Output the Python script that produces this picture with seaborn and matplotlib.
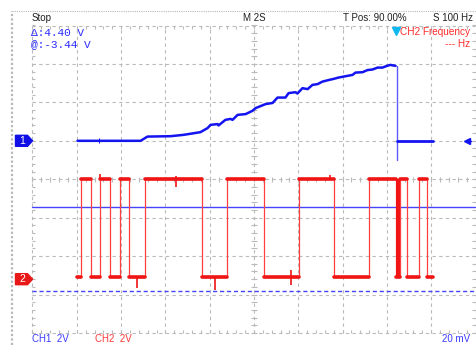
import numpy as np
import pandas as pd
import matplotlib
matplotlib.use("Agg")
import matplotlib.pyplot as plt
import seaborn as sns
from matplotlib.lines import Line2D
from matplotlib.patches import Polygon

sns.set_style("white")
plt.rcParams['font.family'] = ['Liberation Sans', 'DejaVu Sans']

# ---- acquisition settings ----
sec_per_div = 2.0
n_hdiv, n_vdiv = 10, 8
ch1_volts_per_div = 2.0
ch2_volts_per_div = 2.0
ch1_offset_div = 1.0
ch2_offset_div = -2.6

# ---- CH1: analog ramp (time in s, volts) ----
ch1_t = [2.03, 4.88, 5.19, 6.23, 6.82, 7.58, 7.90, 8.04, 8.35, 8.40, 8.71, 8.94,
         9.03, 9.26, 9.62, 9.93, 10.07, 10.52, 10.84, 11.06, 11.42, 11.56, 11.87,
         11.96, 12.19, 12.42, 12.64, 12.87, 13.09, 13.36, 13.59, 13.81, 14.13,
         14.45, 14.58, 14.90, 15.12, 15.35, 15.58, 15.80, 16.03, 16.16, 16.39]
ch1_v = [0.00, 0.00, 0.22, 0.24, 0.31, 0.45, 0.66, 0.83, 0.87, 0.80, 1.09, 1.14,
         1.09, 1.35, 1.39, 1.56, 1.70, 1.91, 1.97, 2.25, 2.25, 2.48, 2.53,
         2.46, 2.74, 2.69, 2.91, 2.95, 3.08, 3.16, 3.22, 3.29, 3.36,
         3.43, 3.55, 3.57, 3.68, 3.71, 3.81, 3.81, 3.91, 3.95, 3.90]
ch1_drop_t = 16.46
ch1_drop_v = [3.90, -0.99]
ch1_tail_t = [16.46, 18.06]
ch1_tail_v = [0.00, 0.00]
ch1_glitch_t = [3.02]
ch1_glitch_v = [0.15]

# ---- CH2: digital signal ----
ch2_edges = [2.03, 2.17, 2.62, 3.05, 3.48, 3.97, 4.37, 5.10, 7.67, 8.76, 10.43,
             12.01, 13.63, 15.17, 16.43, 16.57, 16.93, 17.43, 17.83, 18.06]
ch2_states = [0, 1, 0, 1, 0, 1, 0, 1, 0, 1, 0, 1, 0, 1, 0, 1, 0, 1, 0]
ch2_high_v = 5.2
ch2_low_v = 0.1
ch2_burst = [16.43, 16.57]
ch2_spike_t = [3.06, 4.74, 6.50, 8.26, 11.69, 13.45]
ch2_spike_lo = [5.20, -0.47, 4.80, -0.57, -0.30, 5.20]
ch2_spike_hi = [5.45, 0.10, 5.35, 0.10, 0.47, 5.40]

# ---- cursors (CH1 volts) ----
cursor_at_v = -3.44
cursor_delta_v = 4.40

# ---- readouts ----
status_text = "Stop"
timebase_text = "M 2S"
tpos_text = "T Pos: 90.00%"
rate_text = "S 100 Hz"
meas_name = "CH2 Frequency"
meas_value = "--- Hz"
ch1_label = "CH1  2V"
ch2_label = "CH2  2V"
sens_label = "20 mV"
trig_pos_t = 16.39

W, H = 477, 345
BLUE = '#1414f0'
RED = '#f01414'
GRID = '#bababa'


def ch1_div(v):
    return np.asarray(v, dtype=float) / ch1_volts_per_div + ch1_offset_div


def ch2_div(v):
    return np.asarray(v, dtype=float) / ch2_volts_per_div + ch2_offset_div


fig = plt.figure(figsize=(W / 100, H / 100), dpi=100)
fig.patch.set_facecolor('white')
gx0, gx1, gy0, gy1 = 32.5, 475.5, 25.5, 333.0
ax = fig.add_axes([gx0 / W, 1 - gy1 / H, (gx1 - gx0) / W, (gy1 - gy0) / H])
t_span = sec_per_div * n_hdiv
ax.set_xlim(0, t_span)
ax.set_ylim(-n_vdiv / 2, n_vdiv / 2)
ax.axis('off')
px_x = t_span / (gx1 - gx0)
px_y = n_vdiv / (gy1 - gy0)

# ---- graticule ----
grid_kw = dict(color=GRID, lw=0.8, dashes=(3, 3), clip_on=False, zorder=1)
for t in np.arange(0, t_span + 0.01, sec_per_div):
    ax.axvline(t, **grid_kw)
for d in range(-n_vdiv // 2, n_vdiv // 2 + 1):
    ax.axhline(d, **grid_kw)
minor_t = np.arange(0, t_span + 0.001, sec_per_div / 5)
minor_d = np.arange(-n_vdiv / 2, n_vdiv / 2 + 0.001, 0.2)
tick_kw = dict(color=GRID, lw=0.8, clip_on=False, zorder=1)
ax.vlines(minor_t, -2.5 * px_y, 2.5 * px_y, **tick_kw)
ax.hlines(minor_d, t_span / 2 - 2.5 * px_x, t_span / 2 + 2.5 * px_x, **tick_kw)
ax.vlines(minor_t, n_vdiv / 2 - 3 * px_y, n_vdiv / 2, **tick_kw)
ax.vlines(minor_t, -n_vdiv / 2, -n_vdiv / 2 + 3 * px_y, **tick_kw)
ax.hlines(minor_d, 0, 3 * px_x, **tick_kw)
ax.hlines(minor_d, t_span - 3 * px_x, t_span, **tick_kw)

# ---- cursors ----
ax.axhline(ch1_div(cursor_at_v), color='#4444ff', lw=1.0, zorder=2, clip_on=False)
ax.axhline(ch1_div(cursor_at_v - cursor_delta_v), color='#4444ff', lw=1.0,
           dashes=(3, 2), zorder=2, clip_on=False)

# ---- CH2 trace ----
step_t, step_d = [], []
seg_rows = []
for i, s in enumerate(ch2_states):
    lvl = ch2_high_v if s else ch2_low_v
    t0, t1 = ch2_edges[i], ch2_edges[i + 1]
    step_t += [t0, t1]
    step_d += [ch2_div(lvl), ch2_div(lvl)]
    seg_rows += [(i, t0, float(ch2_div(lvl))), (i, t1, float(ch2_div(lvl)))]
steps = pd.DataFrame({'t': step_t, 'd': np.asarray(step_d, dtype=float)})
plateaus = pd.DataFrame(seg_rows, columns=['seg', 't', 'd'])
sns.lineplot(data=steps, x='t', y='d', sort=False, estimator=None, ax=ax,
             color='#ff4040', lw=0.9, zorder=3)
sns.lineplot(data=plateaus, x='t', y='d', units='seg', estimator=None, ax=ax,
             color=RED, lw=2.6, zorder=4)
ax.fill_between(ch2_burst, ch2_div(ch2_low_v), ch2_div(ch2_high_v),
                color=RED, lw=0, zorder=4)
ax.vlines(ch2_spike_t, ch2_div(ch2_spike_lo), ch2_div(ch2_spike_hi),
          color=RED, lw=1.2, zorder=4)

# ---- CH1 trace ----
ramp = pd.DataFrame({'t': ch1_t, 'd': ch1_div(ch1_v)})
sns.lineplot(data=ramp, x='t', y='d', sort=False, estimator=None, ax=ax,
             color=BLUE, lw=1.8, zorder=5)
ax.plot([ch1_drop_t, ch1_drop_t], ch1_div(ch1_drop_v), color='#5a5aff',
        lw=1.0, zorder=5)
tail = pd.DataFrame({'t': ch1_tail_t, 'd': ch1_div(ch1_tail_v)})
sns.lineplot(data=tail, x='t', y='d', sort=False, estimator=None, ax=ax,
             color=BLUE, lw=2.0, zorder=5)
ax.vlines(ch1_glitch_t, ch1_div(0) - 0.05, ch1_div(ch1_glitch_v), color=BLUE,
          lw=0.8, zorder=5)

# ---- channel ground markers ----
for lvl, label, col in [(ch1_div(0), '1', '#1010e6'), (ch2_div(0), '2', '#e81818')]:
    x0 = -17 * px_x
    hh = 5.5 * px_y
    poly = Polygon([[x0, lvl - hh], [-5 * px_x, lvl - hh], [0, lvl],
                    [-5 * px_x, lvl + hh], [x0, lvl + hh]], closed=True,
                   facecolor=col, edgecolor=col, clip_on=False, zorder=6)
    ax.add_patch(poly)
    ax.text(x0 + 6.5 * px_x, lvl, label, color='white', fontsize=7.5,
            ha='center', va='center', clip_on=False, zorder=7)

# right-side level marker and trigger position marker
ax.plot([t_span - 8 * px_x], [ch1_div(0)], marker='<', color=BLUE, ms=5,
        clip_on=False, zorder=6)
ax.plot([t_span - 8 * px_x, t_span - 4 * px_x], [ch1_div(0)] * 2, color=BLUE,
        lw=1.0, clip_on=False, zorder=6)
ax.plot([trig_pos_t], [n_vdiv / 2 - 5 * px_y], marker='v', color='#10b8f0',
        ms=6, clip_on=False, zorder=6)

# ---- outer frame ----
fig.add_artist(Line2D([12 / W, 12 / W], [0, 1 - 11 / H], color='#b8b8b8',
                      lw=1.6, ls=(0, (1, 1))))
fig.add_artist(Line2D([12 / W, 1], [1 - 11 / H, 1 - 11 / H], color='#b8b8b8',
                      lw=0.8, ls=(0, (1, 1))))


def ftext(x, y, s, **kw):
    fig.text(x / W, 1 - y / H, s, va='center', **kw)


ftext(32, 18, status_text, fontsize=7, color='#202020')
ftext(243, 18, timebase_text, fontsize=7, color='#202020')
ftext(343, 18, tpos_text, fontsize=7, color='#202020')
ftext(473, 18, rate_text, fontsize=7, color='#202020', ha='right')
ftext(31, 33, "\u0394:4.40 V", fontsize=8, color='#2a2aff',
      family=['Liberation Mono', 'DejaVu Sans Mono'])
ftext(31, 44, "@:-3.44 V", fontsize=8, color='#2a2aff',
      family=['Liberation Mono', 'DejaVu Sans Mono'])
ftext(470, 32, meas_name, fontsize=7.2, color='#ff2a2a', ha='right')
ftext(470, 44, meas_value, fontsize=7.2, color='#ff2a2a', ha='right')
ftext(32, 339, ch1_label, fontsize=7, color='#3a3aff')
ftext(95, 339, ch2_label, fontsize=7, color='#ff3a3a')
ftext(470, 339, sens_label, fontsize=7, color='#3a3aff', ha='right')

fig.savefig('out.png', dpi=100, facecolor='white')
